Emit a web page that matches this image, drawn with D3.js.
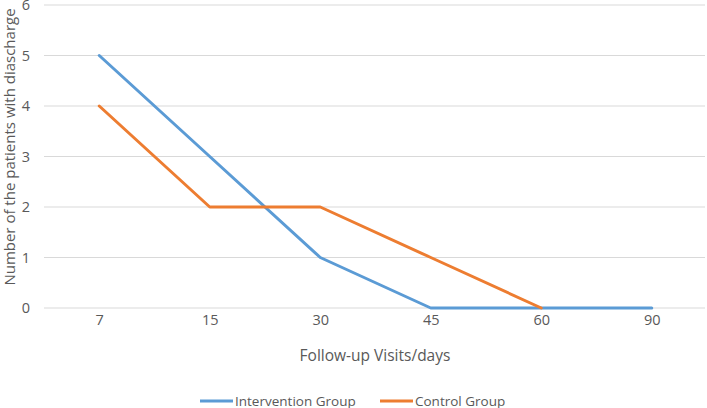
<!DOCTYPE html>
<html><head><meta charset="utf-8">
<script src="https://cdn.jsdelivr.net/npm/d3@7"></script>
<style>body{margin:0;background:#fff;} text{font-family:"Open Sans",sans-serif;fill:#595959;}</style>
</head><body>
<svg id="c" width="707" height="408"></svg>
<script>
const categories = ["7","15","30","45","60","90"];
const intervention = [5,3,1,0,0,0];
const control = [4,2,2,1,0,null];
const yTicks = [0,1,2,3,4,5,6];
const seriesNames = ["Intervention Group","Control Group"];
const colors = ["#5B9BD5","#ED7D31"];

const svg = d3.select("#c");
const m = {left:44, right:0, top:5, bottom:100};
const W = 707, H = 408;
const x = d3.scalePoint().domain(categories).range([m.left, W-m.right]).padding(0.5);
const y = d3.scaleLinear().domain([0,6]).range([308, 5]);

// gridlines
svg.append("g").selectAll("line").data(yTicks).join("line")
  .attr("x1", m.left).attr("x2", W-2)
  .attr("y1", d=>y(d)).attr("y2", d=>y(d))
  .attr("stroke", "#d9d9d9").attr("stroke-width", 1);

// y tick labels
const yAxis = d3.axisLeft(y).tickValues(yTicks).tickSize(0).tickPadding(0).tickFormat(d3.format("d"));
const gy = svg.append("g").attr("transform","translate(30,0)").call(yAxis);
gy.select(".domain").remove();
gy.selectAll("text").attr("font-size","14.5px").attr("font-family","Open Sans").attr("fill","#595959");

// x tick labels
const xAxis = d3.axisBottom(x).tickSize(0).tickPadding(0);
const gx = svg.append("g").attr("transform","translate(0,315)").call(xAxis);
gx.select(".domain").remove();
gx.selectAll("text").attr("font-size","14.5px").attr("font-family","Open Sans").attr("fill","#595959");

// lines
const line = d3.line().defined(d=>d.v!==null).x(d=>x(d.c)).y(d=>y(d.v));
[intervention, control].forEach((s,i)=>{
  svg.append("path")
    .datum(categories.map((c,j)=>({c, v:s[j]})))
    .attr("d", line).attr("fill","none")
    .attr("stroke", colors[i]).attr("stroke-width", 3).attr("stroke-linecap","round").attr("stroke-linejoin","round");
});

// axis titles
svg.append("text").attr("x", 375).attr("y", 361).attr("text-anchor","middle")
  .attr("font-size","15.5px").text("Follow-up Visits/days");
svg.append("text").attr("transform","translate(15,147) rotate(-90)").attr("text-anchor","middle")
  .attr("font-size","15px").text("Number of the patients with diascharge");

// legend
const legendX = [200, 380];
seriesNames.forEach((n,i)=>{
  const g = svg.append("g").attr("transform",`translate(${legendX[i]},401)`);
  g.append("line").attr("x1",0).attr("x2",33).attr("y1",0).attr("y2",0)
    .attr("stroke",colors[i]).attr("stroke-width",3);
  g.append("text").attr("x",35).attr("y",5).attr("font-size","13.5px").text(n);
});
</script>
</body></html>
